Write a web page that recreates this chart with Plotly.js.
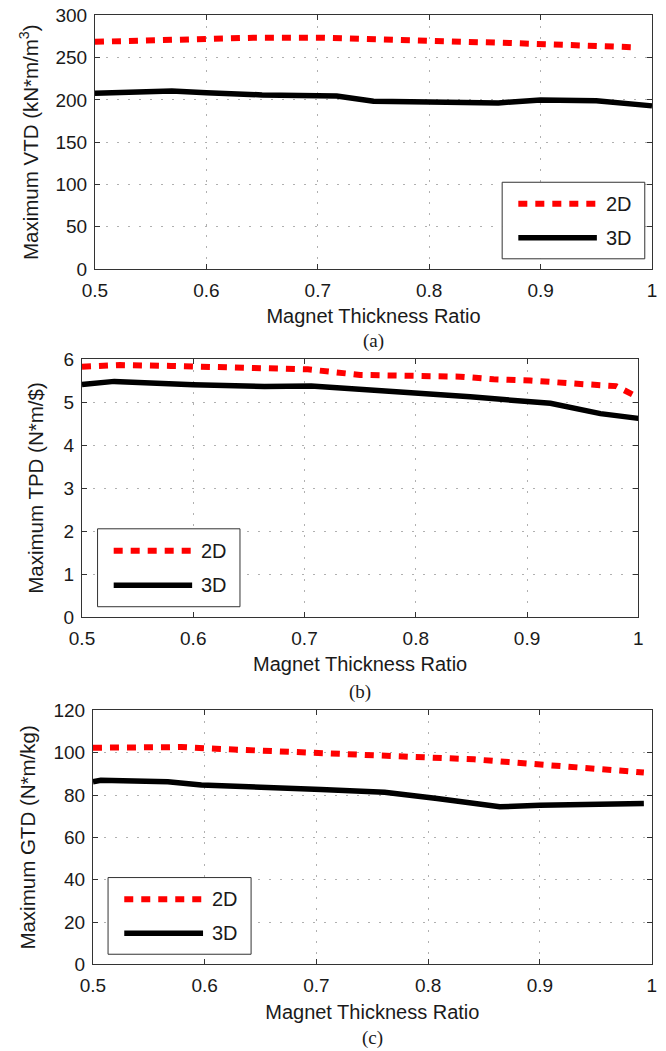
<!DOCTYPE html>
<html><head><meta charset="utf-8">
<script src="https://cdn.plot.ly/plotly-3.0.1.min.js"></script>
<style>html,body{margin:0;padding:0;background:#fff}#chart{width:666px;height:1051px}</style>
</head><body><div id="chart"></div>
<script>
// ---------- data ----------
const seriesNames = ['2D', '3D'];
const xTitle = 'Magnet Thickness Ratio';
const xTickVals = [0.5, 0.6, 0.7, 0.8, 0.9, 1.0];
const xTickText = ['0.5', '0.6', '0.7', '0.8', '0.9', '1'];

// (a) Maximum VTD
const ratioVTD2D = [0.5, 0.6, 0.642, 0.704, 0.75, 0.8, 0.872, 0.95, 0.985];
const vtd2D = [268.8, 271.7, 273.6, 273.6, 272.5, 270.0, 267.4, 264.2, 262.3];
const ratioVTD3D = [0.5, 0.543, 0.569, 0.6, 0.65, 0.717, 0.75, 0.8, 0.862, 0.9, 0.95, 1.0];
const vtd3D = [208.0, 208.6, 210.5, 208.6, 206.0, 204.7, 198.5, 197.5, 196.5, 200.0, 199.0, 193.0];
const vtdTicks = [0, 50, 100, 150, 200, 250, 300];

// (b) Maximum TPD
const ratioTPD2D = [0.5, 0.534, 0.58, 0.658, 0.703, 0.75, 0.81, 0.84, 0.87, 0.903, 0.948, 0.98, 0.996];
const tpd2D = [5.82, 5.86, 5.84, 5.78, 5.76, 5.63, 5.61, 5.59, 5.53, 5.50, 5.42, 5.37, 5.16];
const ratioTPD3D = [0.5, 0.529, 0.6, 0.664, 0.706, 0.754, 0.8, 0.849, 0.921, 0.966, 1.0];
const tpd3D = [5.41, 5.48, 5.40, 5.36, 5.37, 5.29, 5.19, 5.12, 4.97, 4.73, 4.62];
const tpdTicks = [0, 1, 2, 3, 4, 5, 6];

// (c) Maximum GTD
const ratioGTD2D = [0.5, 0.533, 0.579, 0.61, 0.657, 0.703, 0.75, 0.796, 0.841, 0.872, 0.918, 0.964, 0.993];
const gtd2D = [102.4, 102.8, 102.7, 101.9, 100.9, 100.2, 99.4, 98.4, 96.9, 95.6, 93.9, 91.8, 90.7];
const ratioGTD3D = [0.5, 0.507, 0.567, 0.597, 0.704, 0.761, 0.808, 0.864, 0.9, 0.993];
const gtd3D = [86.3, 87.0, 86.3, 84.8, 82.7, 81.4, 78.4, 74.5, 75.2, 76.0];
const gtdTicks = [0, 20, 40, 60, 80, 100, 120];

const yTitles = ['Maximum VTD (kN*m/m<sup>3</sup>)', 'Maximum TPD (N*m/$)', 'Maximum GTD (N*m/kg)'];
const panelLabels = ['(a)', '(b)', '(c)'];

// ---------- styles ----------
const FONT = '"Liberation Sans", Arial, Helvetica, sans-serif';
const SERIF = '"Liberation Serif", "Times New Roman", serif';
const TXT = '#1a1a1a';
const style2D = {color: '#ff0000', width: 6, dash: '9px,8px'};
const style3D = {color: '#000000', width: 5.5, dash: 'solid'};

const panels = [
  {x2: ratioVTD2D, y2: vtd2D, x3: ratioVTD3D, y3: vtd3D, ticks: vtdTicks, range: [0, 300],
   xdom: [0.1426, 0.9790], ydom: [0.7441, 0.9853], legLeft: 0.731, ystand: 11},
  {x2: ratioTPD2D, y2: tpd2D, x3: ratioTPD3D, y3: tpd3D, ticks: tpdTicks, range: [0, 6],
   xdom: [0.1231, 0.9584], ydom: [0.4129, 0.6584], legLeft: 0.028, ystand: 14},
  {x2: ratioGTD2D, y2: gtd2D, x3: ratioGTD3D, y3: gtd3D, ticks: gtdTicks, range: [0, 120],
   xdom: [0.1396, 0.9785], ydom: [0.0824, 0.3240], legLeft: 0.027, ystand: 12}
];

const traces = [];
const layout = {
  width: 666, height: 1051,
  margin: {l: 0, r: 0, t: 0, b: 0},
  paper_bgcolor: '#ffffff', plot_bgcolor: '#ffffff',
  showlegend: false,
  font: {family: FONT, color: TXT, size: 19},
  shapes: [], annotations: []
};

panels.forEach((p, i) => {
  const n = i === 0 ? '' : String(i + 1);
  const xa = 'x' + n, ya = 'y' + n;
  traces.push({x: p.x2, y: p.y2, name: seriesNames[0], type: 'scatter', mode: 'lines',
    xaxis: xa, yaxis: ya, line: {color: style2D.color, width: style2D.width, dash: style2D.dash}});
  traces.push({x: p.x3, y: p.y3, name: seriesNames[1], type: 'scatter', mode: 'lines',
    xaxis: xa, yaxis: ya, line: {color: style3D.color, width: style3D.width, dash: style3D.dash}});

  const common = {
    showline: true, linecolor: '#333', linewidth: 1, mirror: 'ticks',
    ticks: 'inside', ticklen: 5, tickcolor: '#333', tickwidth: 1,
    showgrid: true, gridcolor: '#b0b0b0', gridwidth: 1, griddash: '2px,9px',
    zeroline: false, fixedrange: true,
    tickfont: {family: FONT, size: 19, color: TXT}
  };
  layout['xaxis' + n] = Object.assign({}, common, {
    domain: p.xdom, anchor: ya, range: [0.5, 1.0],
    tickmode: 'array', tickvals: xTickVals, ticktext: xTickText,
    ticklabelstandoff: 4,
    title: {text: xTitle, font: {family: FONT, size: 20, color: TXT}, standoff: 9}
  });
  layout['yaxis' + n] = Object.assign({}, common, {
    domain: p.ydom, anchor: xa, range: p.range,
    tickmode: 'array', tickvals: p.ticks,
    ticklabelstandoff: 3,
    title: {text: yTitles[i], font: {family: FONT, size: 20.5, color: TXT}, standoff: p.ystand}
  });

  // custom legend (box, line samples, labels) in axis-domain coordinates
  const xr = xa + ' domain', yr = ya + ' domain';
  const L = p.legLeft;
  layout.shapes.push({type: 'rect', xref: xr, yref: yr, x0: L, x1: L + 0.256, y0: 0.04, y1: 0.342,
    line: {color: '#333', width: 1}, fillcolor: '#ffffff', layer: 'above'});
  [[style2D, 0.257], [style3D, 0.123]].forEach(([s, yy], k) => {
    layout.shapes.push({type: 'line', xref: xr, yref: yr, x0: L + 0.029, x1: L + 0.17, y0: yy, y1: yy,
      line: {color: s.color, width: s.width, dash: s.dash}, layer: 'above'});
    layout.annotations.push({xref: xr, yref: yr, x: L + 0.183, y: yy, text: seriesNames[k],
      showarrow: false, xanchor: 'left', yanchor: 'middle',
      font: {family: FONT, size: 20, color: TXT}});
  });

  // panel label
  layout.annotations.push({xref: 'paper', yref: 'paper', x: (p.xdom[0] + p.xdom[1]) / 2,
    y: [1 - 341 / 1051, 1 - 692 / 1051, 1 - 1038 / 1051][i], text: panelLabels[i],
    showarrow: false, xanchor: 'center', yanchor: 'middle',
    font: {family: SERIF, size: 19, color: TXT}});
});

Plotly.newPlot('chart', traces, layout, {staticPlot: true, displayModeBar: false});
</script></body></html>
